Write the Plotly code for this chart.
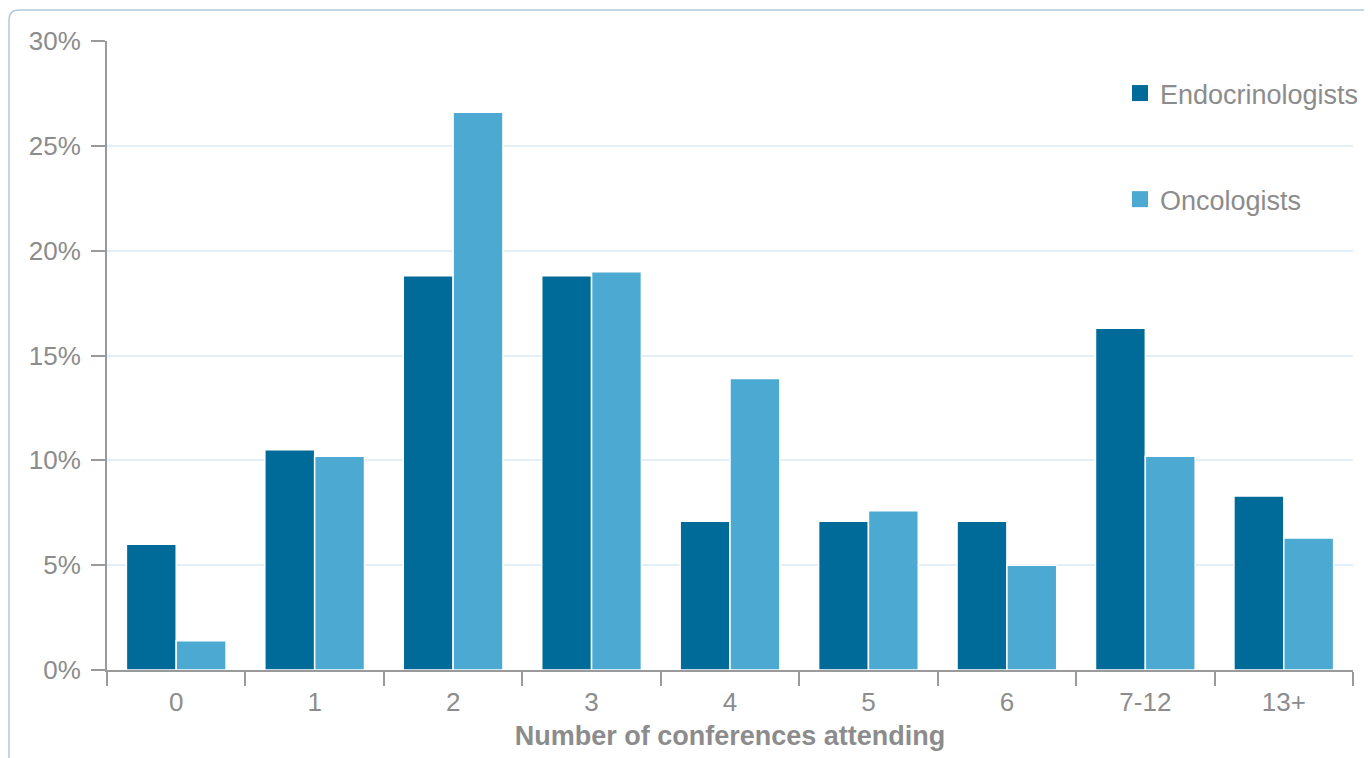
import plotly.graph_objects as go

categories = ["0", "1", "2", "3", "4", "5", "6", "7-12", "13+"]
endocrinologists = [6.0, 10.5, 18.8, 18.8, 7.1, 7.1, 7.1, 16.3, 8.3]
oncologists = [1.4, 10.2, 26.6, 19.0, 13.9, 7.6, 5.0, 10.2, 6.3]
y_ticks = [0, 5, 10, 15, 20, 25, 30]
y_tick_labels = [f"{v}%" for v in y_ticks]

FONT = "Liberation Sans, Arial, Helvetica, sans-serif"
GRAY = "#8c8c8c"
AXIS = "#9a9a9a"
ENDO = "#006b98"
ONC = "#4caad2"

fig = go.Figure()
fig.add_trace(go.Bar(
    x=categories, y=endocrinologists, name="Endocrinologists",
    marker=dict(color=ENDO, line=dict(color="white", width=1.5)),
    showlegend=False,
))
fig.add_trace(go.Bar(
    x=categories, y=oncologists, name="Oncologists",
    marker=dict(color=ONC, line=dict(color="white", width=1.5)),
    showlegend=False,
))
# legend-only entries with larger square swatches
for name, col, grp in [("Endocrinologists", ENDO, "a"), ("Oncologists", ONC, "b")]:
    fig.add_trace(go.Scatter(
        x=[None], y=[None], mode="markers", name=name, legendgroup=grp,
        marker=dict(symbol="square", size=16, color=col),
        showlegend=True,
    ))

# the page body has an 8px margin, so the figure is 8px smaller
OFF = 8
W, H = 1372 - OFF, 758 - OFF
L, R, T, B = 107 - OFF, 1372 - 1353, 41 - OFF, 88
pw, ph = W - L - R, H - T - B

def px(x):  # page x -> paper
    return (x - OFF - L) / pw

def py(y):  # page y -> paper
    return (H - B - (y - OFF)) / ph

# rounded page border (top-left corner visible)
x0, y0, rr = 9, 10, 10
border = (f"M {px(x0)},{py(H + 40)} L {px(x0)},{py(y0 + rr)} "
          f"Q {px(x0)},{py(y0)} {px(x0 + rr)},{py(y0)} L {px(W + 40)},{py(y0)}")

fig.update_layout(
    width=W, height=H,
    margin=dict(l=L, r=R, t=T, b=B, autoexpand=False),
    paper_bgcolor="white", plot_bgcolor="white",
    font=dict(family=FONT, color=GRAY, size=26),
    barmode="group", bargap=0.28, bargroupgap=0.0,
    showlegend=True,
    legend=dict(
        x=px(1120), y=py(69), xanchor="left", yanchor="top",
        font=dict(size=27, color=GRAY, family=FONT),
        tracegroupgap=68, traceorder="grouped",
        itemwidth=30, bgcolor="rgba(0,0,0,0)",
    ),
    xaxis=dict(
        type="category", tickson="boundaries",
        showline=True, linecolor=AXIS, linewidth=2,
        ticks="outside", ticklen=14, tickwidth=2, tickcolor=AXIS,
        tickfont=dict(size=26, color=GRAY), ticklabelstandoff=8,
        showgrid=False,
        title=dict(text="<b>Number of conferences attending</b>",
                   font=dict(size=27, color=GRAY), standoff=10),
    ),
    yaxis=dict(
        range=[0, 30], tickvals=y_ticks, ticktext=y_tick_labels,
        showline=True, linecolor=AXIS, linewidth=2,
        ticks="outside", ticklen=14, tickwidth=2, tickcolor=AXIS,
        tickfont=dict(size=26, color=GRAY), ticklabelstandoff=5,
        showgrid=True, gridcolor="#e3eff8", gridwidth=1.5,
        zeroline=False,
    ),
    shapes=[dict(type="path", xref="paper", yref="paper", path=border,
                 line=dict(color="#b4c8dc", width=1.5), layer="below")],
)

fig.write_html("out.html")
